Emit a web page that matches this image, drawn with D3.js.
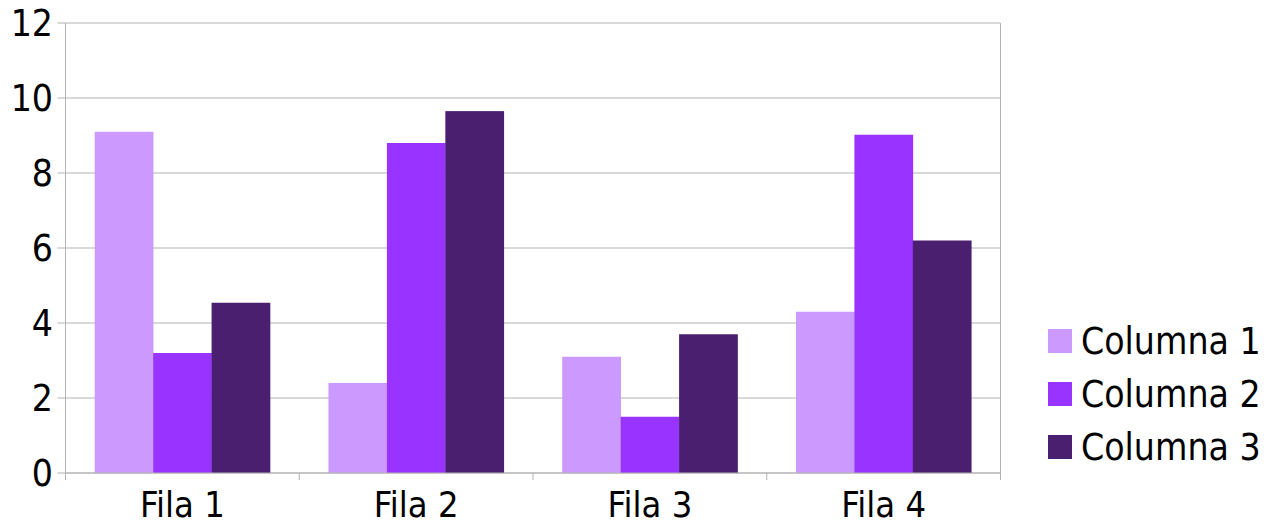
<!DOCTYPE html>
<html><head><meta charset="utf-8">
<script src="https://cdn.jsdelivr.net/npm/d3@7/dist/d3.min.js"></script>
<style>
html,body{margin:0;padding:0;background:#fff;}
text{font-family:"DejaVu Sans Condensed","DejaVu Sans",sans-serif;font-stretch:condensed;fill:#000;}
</style></head>
<body>
<svg id="c" width="1285" height="524"></svg>
<script>
const categories = ["Fila 1","Fila 2","Fila 3","Fila 4"];
const seriesNames = ["Columna 1","Columna 2","Columna 3"];
const columna1 = [9.1, 2.4, 3.1, 4.3];
const columna2 = [3.2, 8.8, 1.5, 9.02];
const columna3 = [4.54, 9.65, 3.7, 6.2];
const yTicks = [0,2,4,6,8,10,12];
const colors = ["#cc99ff","#9933ff","#4b1f6f"];

const series = [columna1, columna2, columna3];
const svg = d3.select("#c");
const L = 65.5, R = 1000.5, T = 23, B = 473;
const x = d3.scaleBand().domain(categories).range([L, R]);
const inner = d3.scaleBand().domain(seriesNames)
  .range([x.bandwidth()/8, x.bandwidth()*7/8]).padding(0);
const y = d3.scaleLinear().domain([0,12]).range([B, T]);
const grid = "#b3b3b3";

// gridlines
svg.append("g").selectAll("line").data(yTicks).join("line")
  .attr("x1", L-8).attr("x2", R).attr("y1", d=>y(d)).attr("y2", d=>y(d))
  .attr("stroke", grid).attr("stroke-width",1);
// right border
svg.append("line").attr("x1",R).attr("x2",R).attr("y1",T).attr("y2",B).attr("stroke",grid);

// bars
const g = svg.append("g");
series.forEach((vals, si) => {
  g.selectAll(null).data(vals).join("rect")
    .attr("x", (d,i)=> x(categories[i]) + inner(seriesNames[si]))
    .attr("width", inner.bandwidth()+0.3)
    .attr("y", d=>y(d))
    .attr("height", d=>B - y(d))
    .attr("fill", colors[si]);
});

// axes lines
svg.append("line").attr("x1",L).attr("x2",L).attr("y1",T).attr("y2",B).attr("stroke",grid);
svg.append("line").attr("x1",L).attr("x2",R).attr("y1",B).attr("y2",B).attr("stroke",grid);
// x ticks at category boundaries
const bounds = categories.map(c=>x(c)).concat([R]);
svg.append("g").selectAll("line").data(bounds).join("line")
  .attr("x1",d=>d).attr("x2",d=>d).attr("y1",B).attr("y2",B+7).attr("stroke",grid);

// y labels
svg.append("g").selectAll("text").data(yTicks).join("text")
  .attr("x", 53).attr("y", d=>y(d)).attr("dy","0.36em")
  .attr("text-anchor","end").attr("font-size","37px").text(d=>d);

// x labels
svg.append("g").selectAll("text").data(categories).join("text")
  .attr("x", d=>x(d)+x.bandwidth()/2).attr("y", 517)
  .attr("text-anchor","middle").attr("font-size","36px").text(d=>d);

// legend
const lg = svg.append("g");
seriesNames.forEach((n,i)=>{
  const cy = 341 + i*53;
  lg.append("rect").attr("x",1048).attr("y",cy-12).attr("width",24).attr("height",24).attr("fill",colors[i]);
  lg.append("text").attr("x",1081).attr("y",cy).attr("dy","0.36em").attr("font-size","37px").text(n);
});
</script>
</body></html>
